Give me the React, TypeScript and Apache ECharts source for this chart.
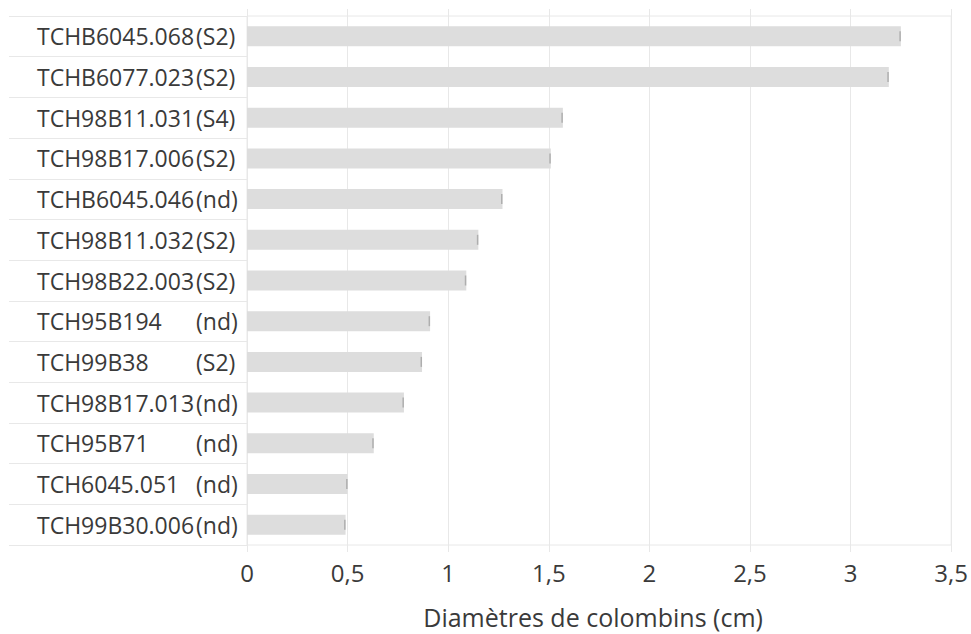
import React, { useEffect, useRef } from "react";
import * as echarts from "echarts";

const codes = [
  "TCHB6045.068",
  "TCHB6077.023",
  "TCH98B11.031",
  "TCH98B17.006",
  "TCHB6045.046",
  "TCH98B11.032",
  "TCH98B22.003",
  "TCH95B194",
  "TCH99B38",
  "TCH98B17.013",
  "TCH95B71",
  "TCH6045.051",
  "TCH99B30.006",
];
const suffixes = ["(S2)", "(S2)", "(S4)", "(S2)", "(nd)", "(S2)", "(S2)", "(nd)", "(S2)", "(nd)", "(nd)", "(nd)", "(nd)"];
const diameters = [3.25, 3.19, 1.57, 1.51, 1.27, 1.15, 1.09, 0.91, 0.87, 0.78, 0.63, 0.5, 0.49];
const categories = codes.map((c, i) => c + "|" + suffixes[i]);
const axisTitle = "Diamètres de colombins (cm)";

const FONT = "'Open Sans', 'Noto Sans', sans-serif";
const TEXT = "#3a3a3a";
const LINE = "#e8e8e8";

export default function App() {
  const ref = useRef<HTMLDivElement>(null);
  useEffect(() => {
    if (!ref.current) return;
    const chart = echarts.init(ref.current, undefined, { renderer: "svg" });
    chart.setOption({
      animation: false,
      textStyle: { fontFamily: FONT },
      grid: {
        left: 247,
        right: 17,
        top: 16,
        bottom: 89,
        show: true,
        borderColor: LINE,
        borderWidth: 1,
      },
      xAxis: [
        {
          type: "value",
          min: 0,
          max: 3.5,
          interval: 0.5,
          position: "bottom",
          axisLine: { show: false },
          axisTick: { show: true, length: 7, lineStyle: { color: LINE } },
          splitLine: { show: true, lineStyle: { color: LINE, width: 1 } },
          axisLabel: {
            fontSize: 24,
            color: TEXT,
            fontFamily: FONT,
            margin: 15,
            formatter: (v: number) => String(v).replace(".", ","),
          },
          name: axisTitle,
          nameLocation: "middle",
          nameGap: 59,
          nameTextStyle: { fontSize: 25, color: TEXT, fontFamily: FONT, padding: [0, 12, 0, 0] },
        },
        {
          type: "value",
          min: 0,
          max: 3.5,
          interval: 0.5,
          position: "top",
          axisLine: { show: false },
          axisTick: { show: true, length: 7, lineStyle: { color: LINE } },
          splitLine: { show: false },
          axisLabel: { show: false },
        },
      ],
      yAxis: {
        type: "category",
        data: categories,
        inverse: true,
        axisLine: { show: false },
        axisTick: { show: true, length: 238, lineStyle: { color: LINE } },
        splitLine: { show: false },
        axisLabel: {
          align: "left",
          margin: 210,
          fontSize: 23,
          color: TEXT,
          fontFamily: FONT,
          formatter: (v: string) => {
            const [c, s] = v.split("|");
            return "{n|" + c + "}{s|" + s + "}";
          },
          rich: {
            n: { width: 159, fontSize: 23, color: TEXT, fontFamily: FONT, align: "left" },
            s: { fontSize: 23, color: TEXT, fontFamily: FONT, align: "left" },
          },
        },
      },
      series: [
        {
          type: "bar",
          data: diameters,
          barWidth: 20,
          itemStyle: { color: "#dddddd" },
        },
        {
          type: "scatter",
          data: diameters.map((v, i) => [v, categories[i]]),
          symbol: "rect",
          symbolSize: [1.5, 10],
          symbolOffset: [-0.75, 0],
          itemStyle: { color: "#a3a3a3" },
          silent: true,
        },
      ],
    });
    return () => chart.dispose();
  }, []);
  return <div ref={ref} style={{ width: 971, height: 634, position: "absolute", left: 0, top: 0 }} />;
}
